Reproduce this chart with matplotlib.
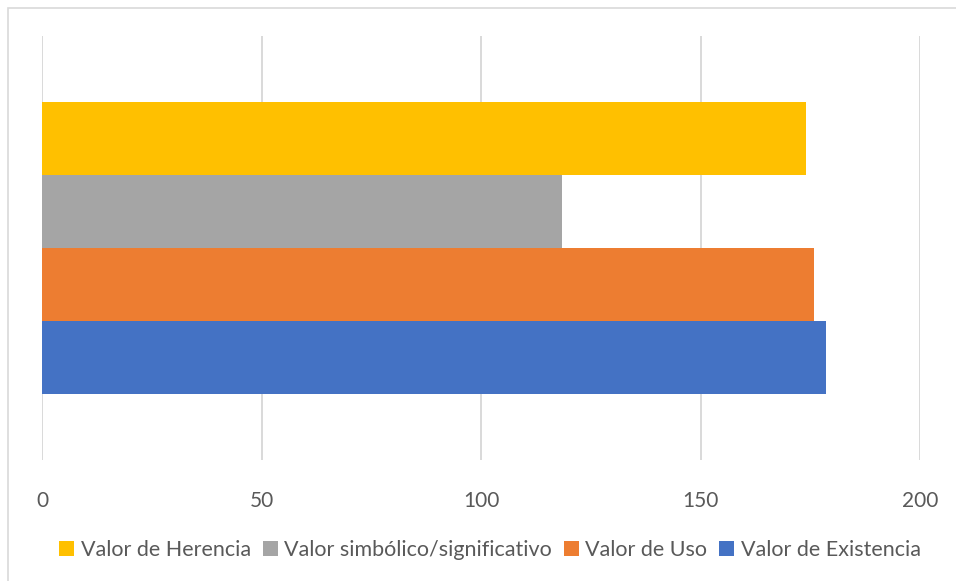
import matplotlib
matplotlib.use("Agg")
import matplotlib.pyplot as plt
from matplotlib.patches import Patch, Rectangle

series = ["Valor de Herencia", "Valor simbólico/significativo", "Valor de Uso", "Valor de Existencia"]
values = [174, 118.4, 175.8, 178.6]
colors = ["#FFC000", "#A5A5A5", "#ED7D31", "#4472C4"]
xticks = [0, 50, 100, 150, 200]

plt.rcParams['font.family'] = ['Lato', 'DejaVu Sans']

fig = plt.figure(figsize=(9.56, 5.81), dpi=100)
W, H = 956, 581
# chart border
fig.patches.append(Rectangle((8 / W, -0.1), 1.2, 1 - 8 / H + 0.1, transform=fig.transFigure,
                             fill=False, edgecolor="#D9D9D9", linewidth=1.2))

ax = fig.add_axes([42 / W, 1 - 460 / H, (920 - 42) / W, (460 - 36) / H])
n = len(series)
positions = [1.5 - i for i in range(n)]
for pos, v, c, s in zip(positions, values, colors, series):
    ax.barh(pos, v, height=1.0, color=c, label=s, zorder=3)

ax.set_xlim(0, 200)
ax.set_ylim(-2.9, 2.9)
ax.set_xticks(xticks)
ax.set_xticklabels([str(t) for t in xticks])
ax.set_yticks([])
ax.grid(axis='x', color="#D9D9D9", linewidth=1.4, zorder=0)
for sp in ax.spines.values():
    sp.set_visible(False)
ax.tick_params(axis='x', length=0, pad=22, labelsize=15, labelcolor="#595959")

handles = [Patch(facecolor=c, edgecolor='none') for c in colors]
fig.legend(handles, series, loc='center', bbox_to_anchor=(490 / W, 1 - 550 / H), ncol=4,
           frameon=False, fontsize=15.5, labelcolor="#595959",
           handlelength=0.7, handleheight=0.7, handletextpad=0.3, columnspacing=0.55)

fig.savefig("out.png", dpi=100)
